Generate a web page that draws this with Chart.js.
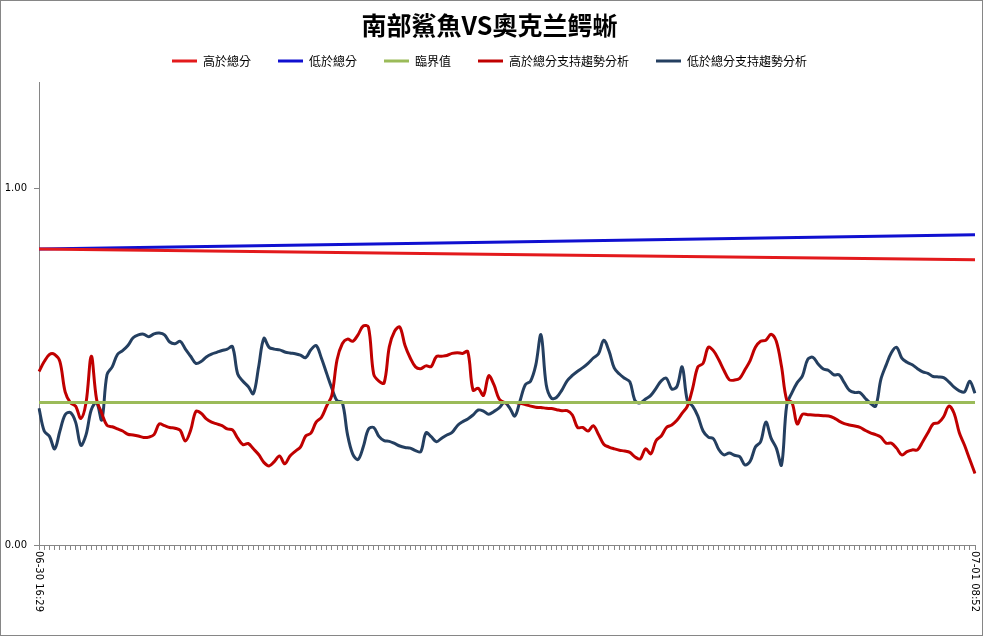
<!DOCTYPE html>
<html>
<head>
<meta charset="utf-8">
<script src="https://cdn.jsdelivr.net/npm/chart.js@4.4.1/dist/chart.umd.min.js"></script>
<style>
  html, body { margin: 0; padding: 0; background: #fff; }
  #wrap { width: 983px; height: 636px; box-sizing: border-box; border: 1px solid #868686; position: relative; }
</style>
</head>
<body>
<div id="wrap"><canvas id="line-chart"></canvas></div>
<script>

var chartTitle = "南部鯊魚VS奧克兰鳄蜥";
var seriesNames = ["高於總分", "低於總分", "臨界值", "高於總分支持趨勢分析", "低於總分支持趨勢分析"];
var lineColors = ["#e31a1c", "#1010d0", "#9bbb59", "#c00000", "#243f60"];

var firstLabel = "06-30 16:29";
var lastLabel = "07-01 08:52";
var yTicks = [0, 1];

// straight lines: value at first and last sample
var highScore = [0.831, 0.801];
var lowScore = [0.831, 0.871];
var critical = [0.40, 0.40];

var trendHigh = [
    .487, .515, .535, .535, .515, .43, .40, .39, .355, .40,
    .53, .41, .37, .336, .332, .326, .32, .311, .309, .306,
    .302, .303, .31, .34, .335, .33, .328, .322, .292, .322,
    .375, .37, .354, .345, .34, .335, .326, .323, .30, .282,
    .285, .27, .254, .232, .222, .234, .25, .228, .25, .263,
    .275, .306, .314, .345, .358, .39, .42, .52, .565, .578,
    .572, .59, .615, .612, .48, .46, .455, .557, .60, .612,
    .56, .525, .50, .495, .503, .501, .529, .53, .532, .538,
    .54, .538, .543, .435, .44, .42, .475, .45, .41, .40,
    .40, .40, .398, .394, .39, .387, .386, .384, .383, .38,
    .377, .377, .365, .33, .33, .32, .335, .31, .283, .275,
    .27, .266, .264, .26, .247, .242, .27, .256, .293, .306,
    .33, .337, .35, .37, .39, .44, .50, .51, .555, .545,
    .52, .49, .464, .463, .468, .492, .518, .555, .572, .575,
    .592, .572, .501, .407, .40, .34, .367, .366, .365, .364,
    .363, .362, .357, .348, .341, .337, .334, .33, .322, .315,
    .31, .303, .286, .286, .272, .253, .262, .267, .267, .29,
    .315, .34, .343, .36, .39, .37, .315, .28, .24, .201
];

var trendLow = [
    .384, .32, .305, .27, .32, .366, .372, .345, .28, .31,
    .38, .40, .351, .478, .50, .535, .546, .56, .582, .59,
    .592, .585, .593, .595, .59, .57, .565, .572, .55, .53,
    .51, .515, .528, .536, .541, .546, .55, .557, .48, .46,
    .445, .425, .50, .58, .555, .55, .548, .542, .539, .537,
    .533, .526, .548, .56, .525, .482, .44, .405, .40, .31,
    .255, .24, .275, .325, .33, .305, .293, .291, .285, .278,
    .274, .272, .265, .262, .315, .304, .29, .30, .309, .316,
    .335, .346, .354, .365, .379, .376, .367, .375, .385, .40,
    .385, .362, .405, .45, .46, .505, .59, .45, .412, .415,
    .435, .461, .476, .488, .498, .51, .525, .537, .575, .545,
    .497, .48, .468, .458, .405, .399, .41, .42, .44, .461,
    .468, .438, .445, .50, .405, .39, .362, .32, .303, .298,
    .268, .253, .258, .252, .248, .225, .235, .275, .29, .345,
    .30, .272, .225, .393, .428, .456, .475, .521, .527, .508,
    .494, .49, .478, .478, .456, .434, .428, .428, .412, .398,
    .39, .465, .505, .54, .555, .525, .513, .506, .495, .486,
    .482, .473, .472, .47, .458, .443, .433, .43, .46, .426
];

// one category per sample, only the two end labels are printed
var xLabels = trendHigh.map(function (v, i) {
    if (i === 0) return firstLabel;
    if (i === trendHigh.length - 1) return lastLabel;
    return "";
});

function ends(values) {
    return [{ x: firstLabel, y: values[0] }, { x: lastLabel, y: values[1] }];
}

function lineSet(idx, data) {
    return {
        label: seriesNames[idx],
        data: data,
        borderColor: lineColors[idx],
        backgroundColor: lineColors[idx],
        borderWidth: 3,
        pointRadius: 0,
        tension: 0.35,
        fill: false
    };
}

// x labels run top to bottom like the original, drawn at the scale's tick pixels
var xLabelPlugin = {
    id: "xLabelPlugin",
    afterDraw: function (chart) {
        var xs = chart.scales.x;
        var ctx = chart.ctx;
        ctx.save();
        ctx.font = "10px 'DejaVu Sans'";
        ctx.fillStyle = "#000";
        ctx.textAlign = "left";
        ctx.textBaseline = "middle";
        [0, xLabels.length - 1].forEach(function (i) {
            ctx.save();
            ctx.translate(xs.getPixelForValue(i), xs.top + 6);
            ctx.rotate(Math.PI / 2);
            ctx.fillText(xLabels[i], 0, 0);
            ctx.restore();
        });
        ctx.restore();
    }
};

// a bit more room between legend and plot
var legendGap = {
    id: "legendGap",
    afterInit: function (chart) {
        var lg = chart.legend;
        var fit = lg.fit;
        lg.fit = function () {
            fit.call(this);
            this.height += 5;
        };
    }
};

new Chart("line-chart", {
    type: "line",
    data: {
        labels: xLabels,
        datasets: [
            lineSet(0, ends(highScore)),
            lineSet(1, ends(lowScore)),
            lineSet(2, ends(critical)),
            lineSet(3, trendHigh),
            lineSet(4, trendLow)
        ]
    },
    plugins: [xLabelPlugin, legendGap],
    options: {
        responsive: true,
        maintainAspectRatio: false,
        animation: false,
        layout: { padding: { left: 3, right: 7, top: 0, bottom: 85 } },
        plugins: {
            title: {
                display: true,
                text: chartTitle,
                color: "#000",
                font: { family: "'Noto Sans CJK TC'", size: 25, weight: "bold" },
                padding: { top: 9, bottom: -12 }
            },
            legend: {
                display: true,
                labels: {
                    color: "#000",
                    font: { family: "'Noto Sans CJK TC'", size: 12 },
                    boxWidth: 25,
                    boxHeight: 3,
                    padding: 27,
                    generateLabels: function (chart) {
                        var items = Chart.defaults.plugins.legend.labels.generateLabels(chart);
                        items.forEach(function (it) {
                            it.lineWidth = 0;
                            it.fillStyle = it.strokeStyle;
                        });
                        return items;
                    }
                }
            },
            tooltip: { enabled: false }
        },
        scales: {
            x: {
                ticks: { display: false, autoSkip: false },
                grid: { display: true, drawOnChartArea: false, drawTicks: true, tickLength: 5, color: "#868686" },
                border: { display: true, color: "#868686" }
            },
            y: {
                min: 0,
                max: 1.3,
                afterBuildTicks: function (axis) {
                    axis.ticks = yTicks.map(function (v) { return { value: v }; });
                },
                afterFit: function (axis) {
                    axis.width = 35;
                },
                ticks: {
                    color: "#000",
                    font: { family: "'DejaVu Sans'", size: 10 },
                    padding: 7,
                    callback: function (v) { return Number(v).toFixed(2); }
                },
                grid: { display: true, drawOnChartArea: false, drawTicks: true, tickLength: 5, color: "#868686" },
                border: { display: true, color: "#868686" }
            }
        }
    }
});
</script>
</body>
</html>
